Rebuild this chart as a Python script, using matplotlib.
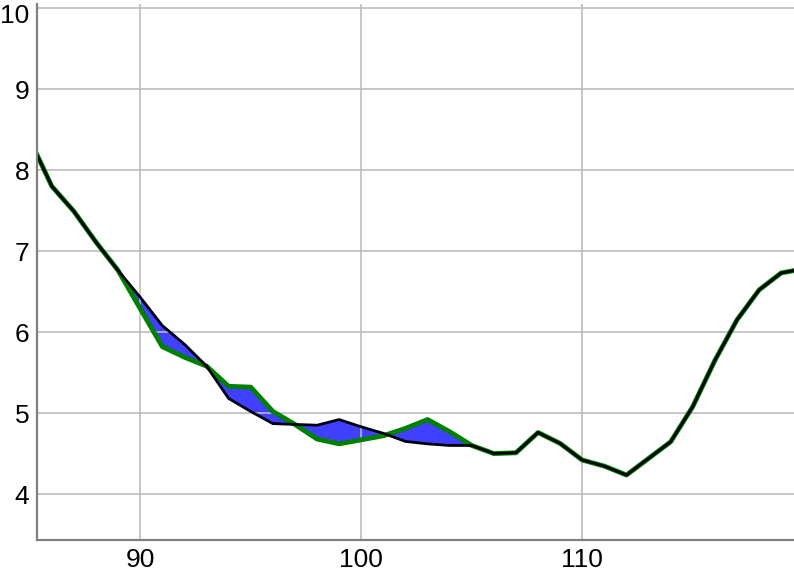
import matplotlib
matplotlib.use("Agg")
import matplotlib.pyplot as plt
import matplotlib.transforms as mtransforms

x = list(range(85, 121))
series_a = [8.38, 7.80, 7.49, 7.11, 6.76, 6.43, 6.08, 5.85, 5.58, 5.18,
            5.02, 4.87, 4.86, 4.85, 4.92, 4.83, 4.75, 4.65, 4.62, 4.60,
            4.60, 4.50, 4.51, 4.76, 4.625, 4.42, 4.345, 4.235, 4.44, 4.645,
            5.08, 5.65, 6.15, 6.52, 6.73, 6.78]
series_b = [8.38, 7.80, 7.49, 7.11, 6.76, 6.29, 5.82, 5.69, 5.58, 5.33,
            5.32, 5.02, 4.86, 4.68, 4.62, 4.67, 4.72, 4.81, 4.92, 4.77,
            4.60, 4.50, 4.51, 4.76, 4.625, 4.42, 4.345, 4.235, 4.44, 4.645,
            5.08, 5.65, 6.15, 6.52, 6.73, 6.78]
xticks = [90, 100, 110]
yticks = [4, 5, 6, 7, 8, 9, 10]

plt.rcParams['font.family'] = ['Liberation Sans', 'DejaVu Sans']

fig = plt.figure(figsize=(7.94, 5.74), dpi=100)
ax = fig.add_axes([37/794, 1 - 540/574, 1 - 37/794, (540 - 4)/574])

ax.fill_between(x, series_a, series_b, color='#0000ff', alpha=0.75,
                linewidth=0, zorder=2)
ax.plot(x, series_b, color='#008000', linewidth=3.5, zorder=3)
ax.plot(x, series_a, color='#000010', linewidth=2.0, zorder=4)

ax.set_xlim(85.33, 119.58)
ax.set_ylim(3.433, 10.05)
ax.set_xticks(xticks)
ax.set_yticks(yticks)
ax.grid(True, color='#bbbbbb', linewidth=1.3, alpha=0.9, zorder=5)
ax.set_axisbelow(False)
for s in ['top', 'right']:
    ax.spines[s].set_visible(False)
for s in ['left', 'bottom']:
    ax.spines[s].set_color('#808080')
    ax.spines[s].set_linewidth(1.6)
    ax.spines[s].set_zorder(6)
ax.tick_params(length=0, labelsize=19, colors='black')
ax.tick_params(axis='x', pad=6)
ax.tick_params(axis='y', pad=5.5)

fig.canvas.draw()
# keep the top y label inside the figure, as in the reference
top_label = ax.get_yticklabels()[-1]
top_label.set_transform(top_label.get_transform() +
                        mtransforms.ScaledTranslation(0, -5.4/100, fig.dpi_scale_trans))

fig.savefig('out.png', dpi=100)
